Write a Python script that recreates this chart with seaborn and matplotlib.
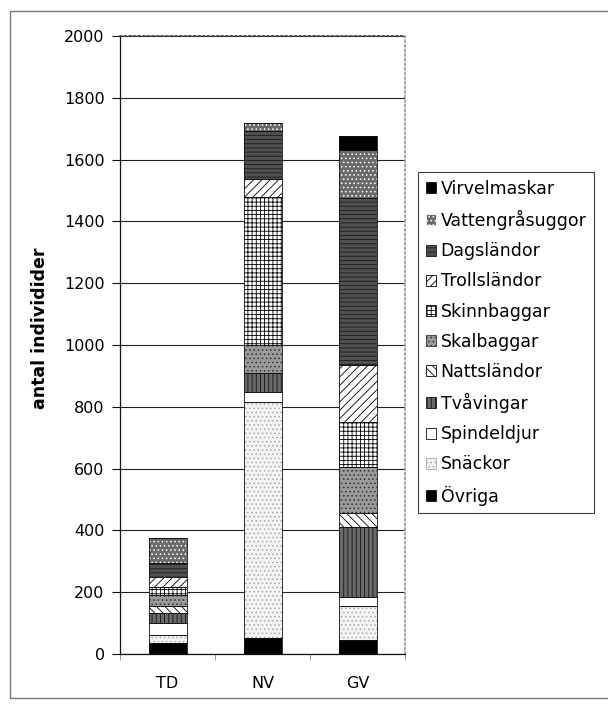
import matplotlib
matplotlib.use("Agg")
import matplotlib.pyplot as plt
from matplotlib.patches import Patch, Rectangle
import numpy as np
import seaborn as sns

# categories and stacked layers, bottom -> top (antal individer)
sites = ["TD", "NV", "GV"]
ovriga = [36, 52, 45]
snackor = [25, 763, 110]
spindeldjur = [39, 33, 30]
tvavingar = [33, 61, 225]
nattslandor = [22, 0, 45]
skalbaggar = [36, 91, 150]
skinnbaggar = [26, 479, 145]
trollslandor = [32, 58, 185]
dagslandor = [45, 156, 540]
vattengrasuggor = [82, 25, 155]
virvelmaskar = [0, 0, 45]

layers = [
    ("Övriga", ovriga),
    ("Snäckor", snackor),
    ("Spindeldjur", spindeldjur),
    ("Tvåvingar", tvavingar),
    ("Nattsländor", nattslandor),
    ("Skalbaggar", skalbaggar),
    ("Skinnbaggar", skinnbaggar),
    ("Trollsländor", trollslandor),
    ("Dagsländor", dagslandor),
    ("Vattengråsuggor", vattengrasuggor),
    ("Virvelmaskar", virvelmaskar),
]

# (facecolor, hatch colour, hatch) -- greyscale print look
styles = {
    "Övriga": ("#000000", "#000000", None),
    "Snäckor": ("#f3f3f3", "#a8a8a8", "...."),
    "Spindeldjur": ("#ffffff", "#ffffff", None),
    "Tvåvingar": ("#6a6a6a", "#111111", "||||"),
    "Nattsländor": ("#ffffff", "#000000", "\\\\\\\\"),
    "Skalbaggar": ("#9a9a9a", "#333333", "...."),
    "Skinnbaggar": ("#ffffff", "#000000", "++++"),
    "Trollsländor": ("#ffffff", "#000000", "////"),
    "Dagsländor": ("#505050", "#1a1a1a", "----"),
    "Vattengråsuggor": ("#6a6a6a", "#ffffff", "...."),
    "Virvelmaskar": ("#000000", "#000000", None),
}

sns.set_theme(style="ticks")
plt.rcParams["font.family"] = ["DejaVu Sans"]
plt.rcParams["hatch.linewidth"] = 0.6
plt.rcParams["text.color"] = "black"
plt.rcParams["xtick.labelcolor"] = "black"
plt.rcParams["ytick.labelcolor"] = "black"

fig = plt.figure(figsize=(6.08, 7.10), dpi=100)
ax = fig.add_axes([120 / 608, 56 / 710, 285 / 608, 618 / 710])

bottom = np.zeros(len(sites))
for name, vals in layers:
    fc, hc, hatch = styles[name]
    sns.barplot(x=sites, y=vals, bottom=bottom.copy(), color=fc, saturation=1,
                edgecolor=hc, hatch=hatch, linewidth=0, width=0.4, ax=ax)
    # thin black outline per segment
    sns.barplot(x=sites, y=vals, bottom=bottom.copy(), color="#111111",
                fill=False, linewidth=0.6, width=0.4, ax=ax)
    bottom += np.array(vals)

ax.set_xlim(-0.5, 2.5)
ax.set_ylim(0, 2000)
ax.set_yticks(range(0, 2001, 200))
ax.yaxis.grid(True, color="#222222", linewidth=0.8)
ax.set_axisbelow(True)
ax.tick_params(axis="y", direction="out", length=6, width=0.8, labelsize=11.5,
               pad=5, color="#111111", labelcolor="black")
ax.tick_params(axis="x", length=0, labelsize=11.5, pad=16, labelcolor="black")
ax.set_xticks([-0.5, 0.5, 1.5, 2.5], minor=True)
ax.tick_params(axis="x", which="minor", direction="out", length=4, width=0.6,
               color="#888888")
ax.set_xlabel("")
ax.set_ylabel("")
for s in ("left", "bottom"):
    ax.spines[s].set_color("#111111")
    ax.spines[s].set_linewidth(0.9)
ax.spines["top"].set_linestyle(":")
ax.spines["top"].set_color("#444444")
ax.spines["right"].set_linestyle(":")
ax.spines["right"].set_color("#999999")

fig.text(40 / 608, 1 - 328 / 710, "antal individider", rotation=90, ha="center",
         va="center", fontsize=12.5, fontweight="bold", color="black")

handles = []
for name, _ in reversed(layers):
    fc, hc, hatch = styles[name]
    handles.append(Patch(facecolor=fc, edgecolor=hc if hatch else "#111111",
                         hatch=hatch, linewidth=0.6, label=name))
leg = fig.legend(handles=handles, loc="upper left",
                 bbox_to_anchor=(418 / 608, 1 - 172 / 710),
                 frameon=True, fancybox=False, edgecolor="#111111",
                 prop={"family": "DejaVu Sans", "size": 12.5},
                 handlelength=0.6, handleheight=0.6, handletextpad=0.25,
                 labelspacing=0.7, borderpad=0.45, borderaxespad=0)
leg.get_frame().set_linewidth(0.8)
for t in leg.get_texts():
    t.set_color("black")

fig.patches.append(Rectangle((10 / 608, 12 / 710), 620 / 608, 687 / 710,
                             transform=fig.transFigure, fill=False,
                             edgecolor="#777777", linewidth=1.0))

fig.savefig("out.png", dpi=100)
